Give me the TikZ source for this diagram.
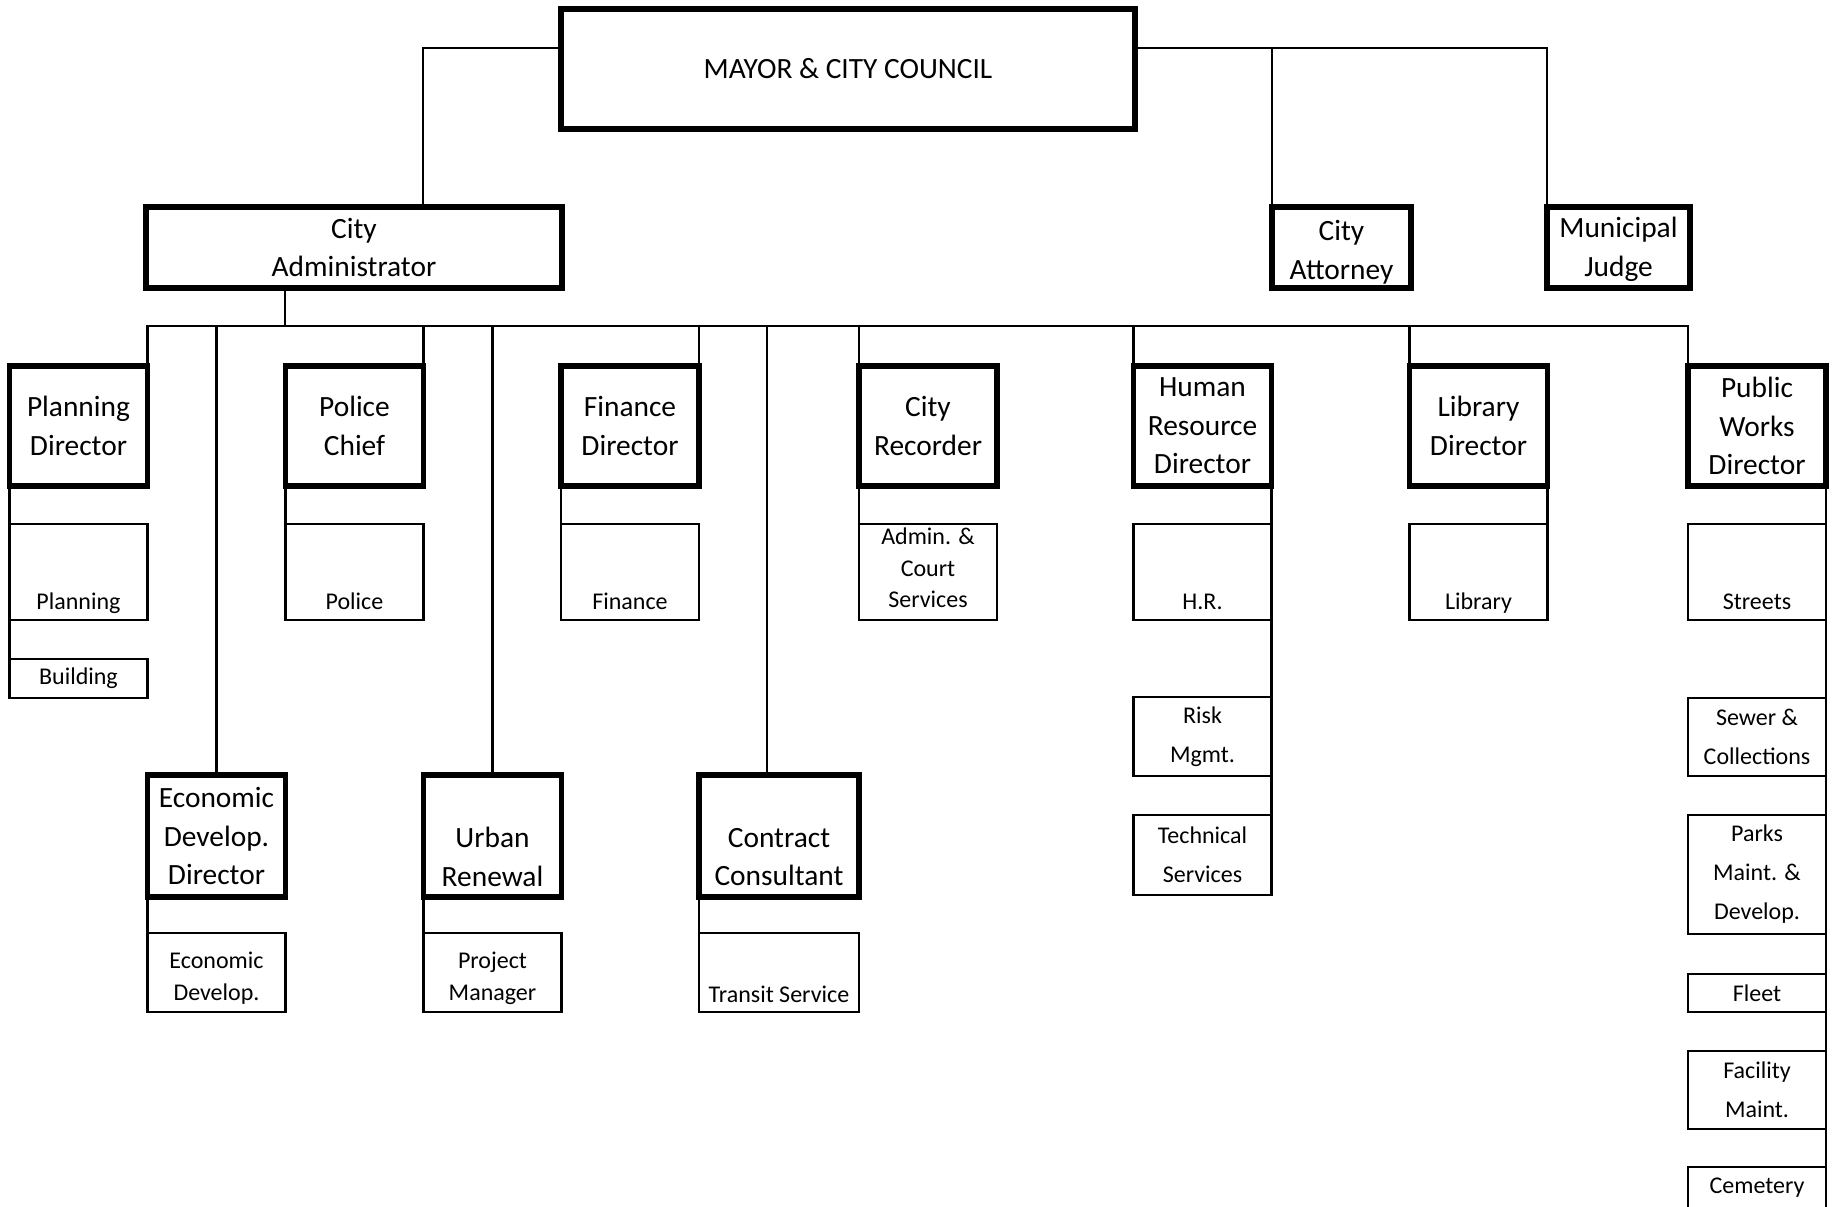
\documentclass[tikz,border=0pt]{standalone}
\usepackage{fontspec}
\setmainfont{Carlito}
\newcommand\bigfont{\fontsize{14.7}{19.3}\selectfont}
\newcommand\subfont{\fontsize{12}{15.8}\selectfont}
\newcommand\subfontw{\fontsize{12}{19.5}\selectfont}
\tikzset{
 bigbox/.style={draw, line width=2.6pt, inner sep=0pt, outer sep=0pt, align=center, font=\bigfont, minimum width=69pt, minimum height=60pt},
 bigtext/.style={inner sep=0pt, align=center, font=\bigfont},
 subbox/.style={draw, line width=1.2pt, inner sep=0pt, outer sep=0pt, align=center, font=\subfont, minimum width=69pt, minimum height=48pt},
 subboxw/.style={subbox, font=\subfontw},
 subtext/.style={inner sep=0pt, font=\subfont, anchor=base},
 subtextc/.style={inner sep=0pt, font=\subfont, align=center},
 conn/.style={line width=1.3pt},
}
\begin{document}
\begin{tikzpicture}[x=0.5pt,y=-0.5pt]
\useasboundingbox (0,0) rectangle (1833,1206);
% top level
\node[bigbox, minimum width=287pt, minimum height=60pt] (mayor) at (848,69) {MAYOR \& CITY COUNCIL};
\node[bigbox, minimum width=208pt, minimum height=40.5pt] (admin) at (354,247.5) {City\\Administrator};
\node[bigbox, minimum width=69.5pt, minimum height=40.5pt] (atty) at (1341.5,247.5) {};
\node[bigtext] (atty-t) at (1341.5,252) {City\\Attorney};
\node[bigbox, minimum width=71.5pt, minimum height=40.5pt] (judge) at (1618.5,247.5) {};
\node[bigtext] (judge-t) at (1618.5,249.5) {Municipal\\Judge};
% level 2
\node[bigbox] (pd) at (78.5,426) {Planning\\Director};
\node[bigbox] (pc) at (354.5,426) {Police\\Chief};
\node[bigbox] (fd) at (630,426) {Finance\\Director};
\node[bigbox] (cr) at (928,426) {City\\Recorder};
\node[bigbox] (hr) at (1202.5,426) {Human\\Resource\\Director};
\node[bigbox] (ld) at (1478.5,426) {Library\\Director};
\node[bigbox] (pw) at (1757,426) {Public\\Works\\Director};
% level 2 subs
\node[subbox] (plan) at (78.5,572) {};
\node[subtext] (plan-t) at (78.5,609) {Planning};
\node[subbox] (pol) at (354.5,572) {};
\node[subtext] (pol-t) at (354.5,609) {Police};
\node[subbox] (fin) at (630,572) {};
\node[subtext] (fin-t) at (630,609) {Finance};
\node[subbox] (adm) at (928,572) {};
\node[subtextc] (adm-t) at (928,568) {Admin. \&\\Court\\Services};
\node[subbox] (hrs) at (1202.5,572) {};
\node[subtext] (hrs-t) at (1202.5,609) {H.R.};
\node[subbox] (lib) at (1478.5,572) {};
\node[subtext] (lib-t) at (1478.5,609) {Library};
\node[subbox] (str) at (1757,572) {};
\node[subtext] (str-t) at (1757,609) {Streets};
\node[subbox, minimum height=19.5pt] (bld) at (78.5,678.5) {Building};
\node[subboxw, minimum height=39.5pt] (risk) at (1202.5,736.5) {Risk\\Mgmt.};
\node[subboxw, minimum height=40pt] (tech) at (1202.5,855) {Technical\\Services};
\node[subboxw, minimum height=39pt] (sew) at (1757,737) {Sewer \&\\Collections};
\node[subboxw, minimum height=59.5pt] (parks) at (1757,874.5) {Parks\\Maint. \&\\Develop.};
\node[subbox, minimum height=19pt] (fleet) at (1757,993) {Fleet};
\node[subboxw, minimum height=39pt] (fac) at (1757,1090) {Facility\\Maint.};
\node[subbox, minimum height=20.5pt] (cem) at (1757,1187.5) {Cemetery};
% level 3
\node[bigbox, minimum height=61pt] (edd) at (216.5,836) {Economic\\Develop.\\Director};
\node[bigbox, minimum height=61pt] (ur) at (492.5,836) {};
\node[bigtext] (ur-t) at (492.5,857) {Urban\\Renewal};
\node[bigbox, minimum height=61pt, minimum width=80pt] (cc) at (779,836) {};
\node[bigtext] (cc-t) at (779,857) {Contract\\Consultant};
\node[subbox, minimum height=39.5pt] (eds) at (216.5,972.5) {};
\node[subtextc] (eds-t) at (216.5,978) {Economic\\Develop.};
\node[subbox, minimum height=39.5pt] (pm) at (492.5,972.5) {};
\node[subtextc] (pm-t) at (492.5,978) {Project\\Manager};
\node[subbox, minimum height=39.5pt, minimum width=80pt] (ts) at (779,972.5) {};
\node[subtext] (ts-t) at (779,1002) {Transit Service};
% connectors top
\coordinate (tl) at (423,48);
\coordinate (tr) at (1547,48);
\draw[conn] (admin.north -| tl) -- (tl) -- (tl -| mayor.west);
\draw[conn] (mayor.east |- tr) -- (tr) -- (judge.north west);
\draw[conn] (atty.north west |- tr) -- (atty.north west);
% bus
\coordinate (bus) at (285,326);
\coordinate (ccx) at (767,326);
\draw[conn] (admin.south -| bus) -- (bus);
\draw[conn] (pd.north east) -- (pd.north east |- bus) -- (pw.north west |- bus) -- (pw.north west);
\draw[conn] (pc.north east) -- (pc.north east |- bus);
\draw[conn] (fd.north east) -- (fd.north east |- bus);
\draw[conn] (cr.north west) -- (cr.north west |- bus);
\draw[conn] (hr.north west) -- (hr.north west |- bus);
\draw[conn] (ld.north west) -- (ld.north west |- bus);
\draw[conn] (edd.north) -- (edd.north |- bus);
\draw[conn] (ur.north) -- (ur.north |- bus);
\draw[conn] (ccx) -- (ccx |- cc.north);
% sub connectors
\draw[conn] (pd.south west) -- (bld.north west);
\draw[conn] (pc.south west) -- (pol.north west);
\draw[conn] (fd.south west) -- (fin.north west);
\draw[conn] (cr.south west) -- (adm.north west);
\draw[conn] (hr.south east) -- (tech.north east);
\draw[conn] (ld.south east) -- (lib.north east);
\draw[conn] (pw.south east) -- (cem.north east);
\draw[conn] (edd.south west) -- (eds.north west);
\draw[conn] (ur.south west) -- (pm.north west);
\draw[conn] (cc.south west) -- (ts.north west);
\end{tikzpicture}
\end{document}
